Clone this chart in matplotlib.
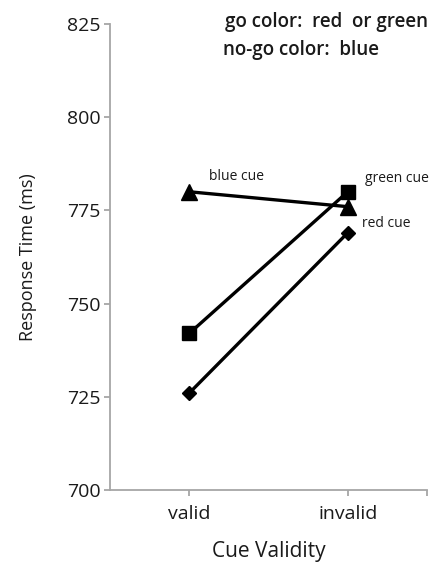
import matplotlib
matplotlib.use("Agg")
import matplotlib.pyplot as plt

categories = ["valid", "invalid"]
blue_cue = [780, 776]
green_cue = [742, 780]
red_cue = [726, 769]
yticks = [700, 725, 750, 775, 800, 825]

plt.rcParams['font.family'] = ['Open Sans', 'DejaVu Sans']

fig = plt.figure(figsize=(4.36, 5.64), dpi=100)
ax = fig.add_axes([110/436, 1-490/564, (427-110)/436, (490-24)/564])

xpos = [0.5, 1.5]
ax.plot(xpos, blue_cue, color='black', lw=2.4, marker='^', ms=11, zorder=3)
ax.plot(xpos, green_cue, color='black', lw=2.4, marker='s', ms=10, zorder=3)
ax.plot(xpos, red_cue, color='black', lw=2.4, marker='D', ms=7, zorder=3)

ax.set_xlim(0, 2)
ax.set_ylim(700, 825)
ax.set_yticks(yticks)
ax.set_yticklabels([str(v) for v in yticks], fontsize=14, color='#1a1a1a')
ax.set_xticks(xpos + [2])
ax.set_xticklabels(categories + [""], fontsize=14, color='#1a1a1a')

for s in ['top', 'right']:
    ax.spines[s].set_visible(False)
for s in ['left', 'bottom']:
    ax.spines[s].set_color('#a6a6a6')
    ax.spines[s].set_linewidth(1.3)
ax.tick_params(axis='both', color='#a6a6a6', length=4, width=1.3)
ax.tick_params(axis='y', pad=3)
ax.tick_params(axis='x', pad=7)

ax.set_ylabel("Response Time (ms)", fontsize=13, color='#1a1a1a', labelpad=21)
ax.set_xlabel("Cue Validity", fontsize=15, color='#1a1a1a', labelpad=13)

ax.text(0.5 + 0.125, blue_cue[0] + 4, "blue cue", fontsize=10, color='#1a1a1a', va='center', ha='left')
ax.text(1.5 + 0.11, green_cue[1] + 3.5, "green cue", fontsize=10, color='#1a1a1a', va='center', ha='left', clip_on=False)
ax.text(1.5 + 0.09, red_cue[1] + 2.5, "red cue", fontsize=10, color='#1a1a1a', va='center', ha='left')

fig.text(225/436, 1-22/564, "go color:  red  or green", fontsize=13.5, color='#1a1a1a', va='center', ha='left', fontweight='semibold')
fig.text(223/436, 1-50/564, "no-go color:  blue", fontsize=13.5, color='#1a1a1a', va='center', ha='left', fontweight='semibold')

fig.savefig("out.png", dpi=100)
